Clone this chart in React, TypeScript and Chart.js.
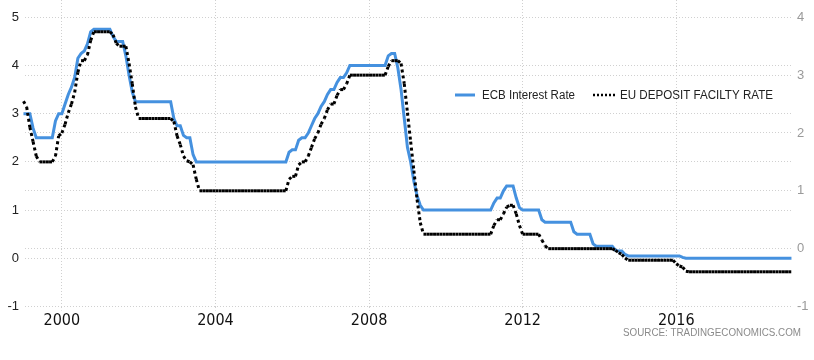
import React, { useEffect, useRef } from 'react';
import { Chart, registerables } from 'chart.js';

Chart.register(...registerables);

// Monthly values, January 1999 .. January 2019
const START_YEAR = 1999;

// ECB main refinancing rate (left axis), one row per year
const ecbRate: number[] = [
  3.0, 3.0, 3.0, 2.7, 2.5, 2.5, 2.5, 2.5, 2.5, 2.5, 2.85, 3.0, // 1999
  3.0, 3.2, 3.4, 3.55, 3.75, 4.15, 4.25, 4.3, 4.45, 4.7, 4.75, 4.75, // 2000
  4.75, 4.75, 4.75, 4.75, 4.6, 4.5, 4.5, 4.5, 4.2, 3.8, 3.45, 3.25, // 2001
  3.25, 3.25, 3.25, 3.25, 3.25, 3.25, 3.25, 3.25, 3.25, 3.25, 3.25, 2.9, // 2002
  2.75, 2.75, 2.55, 2.5, 2.5, 2.15, 2.0, 2.0, 2.0, 2.0, 2.0, 2.0, // 2003
  2.0, 2.0, 2.0, 2.0, 2.0, 2.0, 2.0, 2.0, 2.0, 2.0, 2.0, 2.0, // 2004
  2.0, 2.0, 2.0, 2.0, 2.0, 2.0, 2.0, 2.0, 2.0, 2.0, 2.0, 2.2, // 2005
  2.25, 2.25, 2.45, 2.5, 2.5, 2.6, 2.75, 2.9, 3.0, 3.15, 3.25, 3.4, // 2006
  3.5, 3.5, 3.65, 3.75, 3.75, 3.85, 4.0, 4.0, 4.0, 4.0, 4.0, 4.0, // 2007
  4.0, 4.0, 4.0, 4.0, 4.0, 4.0, 4.2, 4.25, 4.25, 3.95, 3.5, 2.9, // 2008
  2.3, 2.0, 1.6, 1.3, 1.1, 1.0, 1.0, 1.0, 1.0, 1.0, 1.0, 1.0, // 2009
  1.0, 1.0, 1.0, 1.0, 1.0, 1.0, 1.0, 1.0, 1.0, 1.0, 1.0, 1.0, // 2010
  1.0, 1.0, 1.0, 1.15, 1.25, 1.25, 1.4, 1.5, 1.5, 1.5, 1.25, 1.05, // 2011
  1.0, 1.0, 1.0, 1.0, 1.0, 1.0, 0.8, 0.75, 0.75, 0.75, 0.75, 0.75, // 2012
  0.75, 0.75, 0.75, 0.75, 0.55, 0.5, 0.5, 0.5, 0.5, 0.5, 0.3, 0.25, // 2013
  0.25, 0.25, 0.25, 0.25, 0.25, 0.17, 0.15, 0.15, 0.08, 0.05, 0.05, 0.05, // 2014
  0.05, 0.05, 0.05, 0.05, 0.05, 0.05, 0.05, 0.05, 0.05, 0.05, 0.05, 0.05, // 2015
  0.05, 0.05, 0.02, 0, 0, 0, 0, 0, 0, 0, 0, 0, // 2016
  0, 0, 0, 0, 0, 0, 0, 0, 0, 0, 0, 0, // 2017
  0, 0, 0, 0, 0, 0, 0, 0, 0, 0, 0, 0, // 2018
  0, // 2019
];

// EU deposit facility rate (right axis), one row per year
const depositRate: number[] = [
  2.55, 2.45, 2.1, 1.85, 1.6, 1.5, 1.5, 1.5, 1.5, 1.5, 1.6, 1.95, // 1999
  2.0, 2.15, 2.35, 2.5, 2.7, 3.05, 3.25, 3.25, 3.35, 3.6, 3.75, 3.75, // 2000
  3.75, 3.75, 3.75, 3.75, 3.7, 3.55, 3.5, 3.5, 3.5, 3.2, 2.85, 2.45, // 2001
  2.25, 2.25, 2.25, 2.25, 2.25, 2.25, 2.25, 2.25, 2.25, 2.25, 2.25, 2.2, // 2002
  1.95, 1.8, 1.6, 1.52, 1.5, 1.45, 1.2, 1.0, 1.0, 1.0, 1.0, 1.0, // 2003
  1.0, 1.0, 1.0, 1.0, 1.0, 1.0, 1.0, 1.0, 1.0, 1.0, 1.0, 1.0, // 2004
  1.0, 1.0, 1.0, 1.0, 1.0, 1.0, 1.0, 1.0, 1.0, 1.0, 1.0, 1.2, // 2005
  1.25, 1.25, 1.45, 1.5, 1.5, 1.6, 1.75, 1.9, 2.0, 2.15, 2.25, 2.4, // 2006
  2.5, 2.5, 2.65, 2.75, 2.75, 2.85, 3.0, 3.0, 3.0, 3.0, 3.0, 3.0, // 2007
  3.0, 3.0, 3.0, 3.0, 3.0, 3.0, 3.15, 3.25, 3.25, 3.25, 3.2, 2.85, // 2008
  2.35, 1.85, 1.35, 0.85, 0.45, 0.25, 0.25, 0.25, 0.25, 0.25, 0.25, 0.25, // 2009
  0.25, 0.25, 0.25, 0.25, 0.25, 0.25, 0.25, 0.25, 0.25, 0.25, 0.25, 0.25, // 2010
  0.25, 0.25, 0.25, 0.4, 0.5, 0.5, 0.6, 0.72, 0.75, 0.75, 0.6, 0.4, // 2011
  0.25, 0.25, 0.25, 0.25, 0.25, 0.25, 0.15, 0.05, 0, 0, 0, 0, // 2012
  0, 0, 0, 0, 0, 0, 0, 0, 0, 0, 0, 0, // 2013
  0, 0, 0, 0, 0, -0.03, -0.07, -0.1, -0.16, -0.2, -0.2, -0.2, // 2014
  -0.2, -0.2, -0.2, -0.2, -0.2, -0.2, -0.2, -0.2, -0.2, -0.2, -0.2, -0.2, // 2015
  -0.26, -0.3, -0.32, -0.39, -0.4, -0.4, -0.4, -0.4, -0.4, -0.4, -0.4, -0.4, // 2016
  -0.4, -0.4, -0.4, -0.4, -0.4, -0.4, -0.4, -0.4, -0.4, -0.4, -0.4, -0.4, // 2017
  -0.4, -0.4, -0.4, -0.4, -0.4, -0.4, -0.4, -0.4, -0.4, -0.4, -0.4, -0.4, // 2018
  -0.4, // 2019
];

const xTickYears = [2000, 2004, 2008, 2012, 2016];
const leftTicks = [-1, 0, 1, 2, 3, 4, 5];
const rightTicks = [-1, 0, 1, 2, 3, 4];
const legendLabels = ['ECB Interest Rate', 'EU DEPOSIT FACILTY RATE'];
const sourceText = 'SOURCE: TRADINGECONOMICS.COM';

const BLUE = '#4591df';
const GRID = '#d0d0d0';
const BASE_FONT = '"Liberation Sans", Arial, sans-serif';
const NARROW_FONT = '"Liberation Sans Narrow", "DejaVu Sans Condensed", "Liberation Sans", sans-serif';

const overlayPlugin = {
  id: 'overlay',
  afterDraw(chart: any) {
    const ctx: CanvasRenderingContext2D = chart.ctx;
    ctx.save();
    // legend
    ctx.lineWidth = 3;
    ctx.strokeStyle = BLUE;
    ctx.beginPath();
    ctx.moveTo(455, 95);
    ctx.lineTo(475, 95);
    ctx.stroke();
    ctx.fillStyle = '#222';
    ctx.font = '12px ' + BASE_FONT;
    ctx.textBaseline = 'middle';
    ctx.textAlign = 'left';
    ctx.fillText(legendLabels[0], 482, 95.5, 93);
    ctx.setLineDash([2, 2]);
    ctx.strokeStyle = '#000';
    ctx.lineWidth = 2.5;
    ctx.beginPath();
    ctx.moveTo(593, 95);
    ctx.lineTo(615, 95);
    ctx.stroke();
    ctx.setLineDash([]);
    ctx.fillText(legendLabels[1], 620, 95.5, 153);
    // source
    ctx.fillStyle = '#8a8a8a';
    ctx.font = '10px ' + BASE_FONT;
    ctx.textAlign = 'right';
    ctx.fillText(sourceText, 801, 333.5, 178);
    ctx.restore();
  },
};

export default function App() {
  const ref = useRef<HTMLCanvasElement>(null);

  useEffect(() => {
    const canvas = ref.current;
    if (!canvas) return;
    const toPoints = (vals: number[]) => vals.map((y, i) => ({ x: START_YEAR + i / 12, y }));

    const chart = new Chart(canvas, {
      type: 'line',
      data: {
        datasets: [
          {
            label: legendLabels[1],
            data: toPoints(depositRate),
            yAxisID: 'yRight',
            borderColor: '#000',
            borderWidth: 3,
            borderDash: [3, 3],
            pointRadius: 0,
            tension: 0,
            order: 0,
            clip: false,
            segment: {
              borderDashOffset: (c: any) => (c.p0DataIndex % 2 ? 0.001 : 0),
            },
          } as any,
          {
            label: legendLabels[0],
            data: toPoints(ecbRate),
            yAxisID: 'yLeft',
            borderColor: BLUE,
            borderWidth: 3,
            pointRadius: 0,
            tension: 0,
            order: 1,
            clip: false,
          } as any,
        ],
      },
      options: {
        responsive: false,
        animation: false,
        events: [],
        layout: { padding: 0 },
        plugins: { legend: { display: false }, tooltip: { enabled: false } },
        scales: {
          x: {
            type: 'linear',
            min: 1999.04,
            max: 2019.04,
            afterBuildTicks: (s: any) => {
              s.ticks = xTickYears.map((v) => ({ value: v }));
            },
            afterFit: (s: any) => {
              s.height = 53.5;
              s.paddingLeft = 0;
              s.paddingRight = 0;
            },
            grid: { color: GRID, drawTicks: true, tickLength: 4, tickBorderDash: [1, 2] },
            border: { display: false, dash: [1, 2] },
            ticks: {
              padding: 1,
              color: '#111',
              autoSkip: false,
              maxRotation: 0,
              font: { family: NARROW_FONT, size: 16 },
              callback: (v: any) => String(v),
            },
          },
          yLeft: {
            type: 'linear',
            position: 'left',
            min: -1,
            max: 5.359,
            afterBuildTicks: (s: any) => {
              s.ticks = leftTicks.map((v) => ({ value: v }));
            },
            afterFit: (s: any) => {
              s.width = 25;
              s.paddingTop = 0;
              s.paddingBottom = 0;
            },
            grid: { color: GRID, drawTicks: false },
            border: { display: false, dash: [1, 2] },
            ticks: {
              padding: 6,
              color: '#222',
              font: { family: BASE_FONT, size: 13 },
              callback: (v: any) => String(v),
            },
          },
          yRight: {
            type: 'linear',
            position: 'right',
            min: -1,
            max: 4.299,
            afterBuildTicks: (s: any) => {
              s.ticks = rightTicks.map((v) => ({ value: v }));
            },
            afterFit: (s: any) => {
              s.width = 21;
              s.paddingTop = 0;
              s.paddingBottom = 0;
            },
            grid: { color: GRID, drawTicks: false },
            border: { display: false, dash: [1, 2] },
            ticks: {
              padding: 4,
              color: '#9a9a9a',
              font: { family: BASE_FONT, size: 13 },
              callback: (v: any) => String(v),
            },
          },
        },
      } as any,
      plugins: [overlayPlugin],
    });

    return () => chart.destroy();
  }, []);

  return (
    <div style={{ position: 'absolute', left: 0, top: 0, width: 814, height: 360, background: '#fff' }}>
      <canvas ref={ref} width={814} height={360} style={{ display: 'block' }} />
    </div>
  );
}
